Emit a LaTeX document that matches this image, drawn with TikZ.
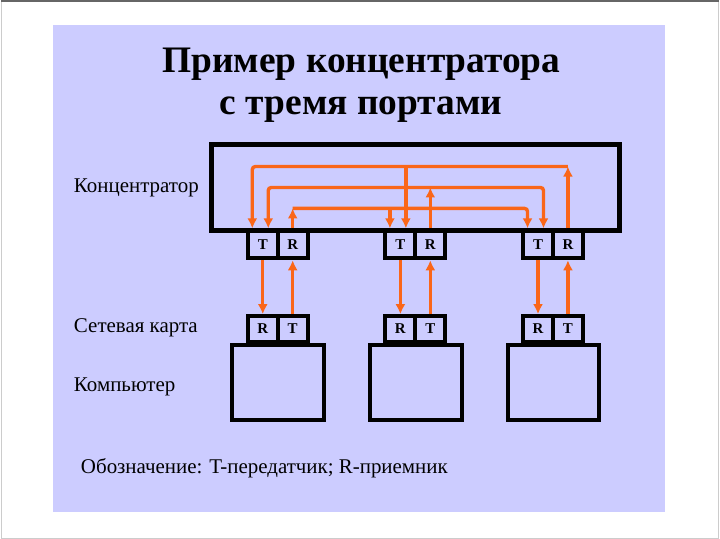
\documentclass[tikz,border=0pt]{standalone}
\usepackage{fontspec}
\setmainfont{Liberation Serif}
\usetikzlibrary{arrows.meta}
\definecolor{lavender}{RGB}{204,204,255}
\definecolor{wireorange}{RGB}{250,102,25}

\begin{document}
\begin{tikzpicture}[x=1pt,y=-1pt,>={Latex[length=10pt,width=10pt]}]
\tikzstyle{box}=[draw=black,line width=4pt,inner sep=0pt]
\tikzstyle{port}=[box,minimum width=30pt,font=\bfseries\fontsize{15}{15}\selectfont]
\tikzstyle{wire}=[->,draw=wireorange,line width=3.4pt,rounded corners=3pt]
\tikzstyle{lbl}=[anchor=base west,inner sep=0pt,font=\fontsize{21}{21}\selectfont]
\tikzstyle{title}=[anchor=base,inner sep=0pt,font=\bfseries\fontsize{37.5}{37.5}\selectfont]
    % slide
    \fill[white] (0,0) rectangle (720,540);
    \draw[gray!40,line width=1pt] (0.5,0.5) rectangle (719.5,539.5);
    \draw[gray!80!black,line width=2pt] (0,1) -- (720,1);
    \fill[lavender] (52,25) rectangle (666,513);
    \node[title] (title1) at (361.5,73) {Пример концентратора};
    \node[title] (title2) at (361,115) {с тремя портами};
    % hub and its ports
    \node[box,line width=4.5pt,minimum width=409pt,minimum height=86pt] (hub) at (415.5,188) {};
    \node[port,minimum height=28pt] (ht1) at (262.5,245) {T};
    \node[port,minimum height=28pt] (hr1) at (292.5,245) {R};
    \node[port,minimum height=28pt] (ht2) at (400.5,245) {T};
    \node[port,minimum height=28pt] (hr2) at (430.5,245) {R};
    \node[port,minimum height=28pt] (ht3) at (538.5,245) {T};
    \node[port,minimum height=28pt] (hr3) at (568.5,245) {R};
    % network cards and computers
    \node[box,minimum width=92pt,minimum height=75pt] (pc1) at (278,383.5) {};
    \node[box,minimum width=92pt,minimum height=75pt] (pc2) at (416,383.5) {};
    \node[box,minimum width=92pt,minimum height=75pt] (pc3) at (554,383.5) {};
    \node[port,minimum height=26pt] (cr1) at (262.5,330) {R};
    \node[port,minimum height=26pt] (ct1) at (292.5,330) {T};
    \node[port,minimum height=26pt] (cr2) at (400.5,330) {R};
    \node[port,minimum height=26pt] (ct2) at (430.5,330) {T};
    \node[port,minimum height=26pt] (cr3) at (538.5,330) {R};
    \node[port,minimum height=26pt] (ct3) at (568.5,330) {T};
    % captions
    \node[lbl] (hubtext) at (73,193) {Концентратор};
    \node[lbl] (cardtext) at (73,333) {Сетевая карта};
    \node[lbl] (pctext) at (73,393) {Компьютер};
    \node[lbl] (legend) at (80,475) {Обозначение: T-передатчик; R-приемник};
    % buses inside the hub
    \coordinate (bus1) at (0,167);
    \coordinate (bus2) at (0,188);
    \coordinate (bus3) at (0,209);
    \coordinate (t1a) at ([xshift=-10.5pt]ht1.north);
    \coordinate (t1b) at ([xshift=5.5pt]ht1.north);
    \coordinate (t2a) at ([xshift=-10.5pt]ht2.north);
    \coordinate (t2b) at ([xshift=5.5pt]ht2.north);
    \coordinate (t3a) at ([xshift=-10.5pt]ht3.north);
    \coordinate (t3b) at ([xshift=5.5pt]ht3.north);
    \draw[wire] (hr3.north |- bus1) -- (t1a |- bus1) -- (t1a);
    \draw[wire] (t2b |- bus1) -- (t2b);
    \draw[wire] (hr3.north) -- (hr3.north |- bus1);
    \draw[wire,<->] (t1b) -- (t1b |- bus2) -- (t3b |- bus2) -- (t3b);
    \draw[wire] (hr2.north) -- (hr2.north |- bus2);
    \draw[wire] (hr1.north |- bus3) -- (t3a |- bus3) -- (t3a);
    \draw[wire] (t2a |- bus3) -- (t2a);
    \draw[wire] (hr1.north) -- (hr1.north |- bus3);
    % hub ports to network cards
    \draw[wire] (ht1.south) -- (cr1.north);
    \draw[wire] (ct1.north) -- (hr1.south);
    \draw[wire] (ht2.south) -- (cr2.north);
    \draw[wire] (ct2.north) -- (hr2.south);
    \draw[wire] (ht3.south) -- (cr3.north);
    \draw[wire] (ct3.north) -- (hr3.south);
\end{tikzpicture}
\end{document}
